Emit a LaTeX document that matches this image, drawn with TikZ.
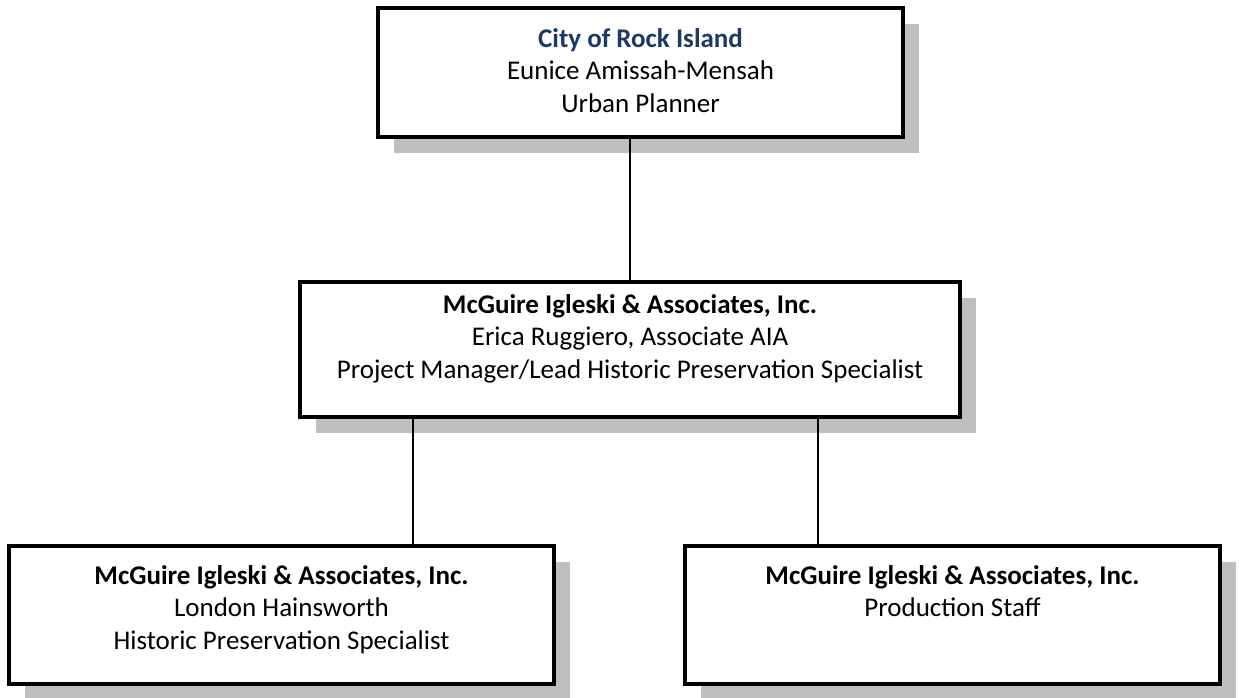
\documentclass[tikz,border=0pt]{standalone}
\usepackage{fontspec}
\setmainfont{Carlito}
\usetikzlibrary{positioning,shadows}
\definecolor{shadowgray}{HTML}{BFBFBF}
\definecolor{cityblue}{HTML}{1F3864}
\tikzset{
    orgbox/.style={draw, line width=4pt, fill=white,
        drop shadow={shadow xshift=16pt, shadow yshift=-16pt, fill=shadowgray, opacity=1}},
    boxtext/.style={align=center, font=\fontsize{27}{32.5}\selectfont, inner sep=0pt}
}
\begin{document}
\begin{tikzpicture}[x=1pt, y=-1pt]
    \useasboundingbox (0,0) rectangle (1239,698);

    \node (city) [orgbox, minimum width=525pt, minimum height=129pt] at (640.5,72.5) {};
    \node (mia) [orgbox, minimum width=660pt, minimum height=135pt] at (630,349.5) {};
    \node (hains) [orgbox, minimum width=545pt, minimum height=138pt] at (281.5,615) {};
    \node (staff) [orgbox, minimum width=535pt, minimum height=138pt] at (952.5,615) {};

    \node (city text) [boxtext, below=22pt of city.north] {\textbf{\color{cityblue}City of Rock Island}\\Eunice Amissah-Mensah\\Urban Planner};
    \node (mia text) [boxtext, below=14pt of mia.north] {\textbf{McGuire Igleski \& Associates, Inc.}\\Erica Ruggiero, Associate AIA\\Project Manager/Lead Historic Preservation Specialist};
    \node (hains text) [boxtext, below=21pt of hains.north] {\textbf{McGuire Igleski \& Associates, Inc.}\\London Hainsworth\\Historic Preservation Specialist};
    \node (staff text) [boxtext, below=21pt of staff.north] {\textbf{McGuire Igleski \& Associates, Inc.}\\Production Staff};

    \coordinate (c1) at (630,139);
    \coordinate (c2) at (413,419);
    \coordinate (c3) at (818,419);

    \path[-, line width=1.5pt] (c1) edge (mia.north -| c1)
                               (c2) edge (hains.north -| c2)
                               (c3) edge (staff.north -| c3);
\end{tikzpicture}
\end{document}
